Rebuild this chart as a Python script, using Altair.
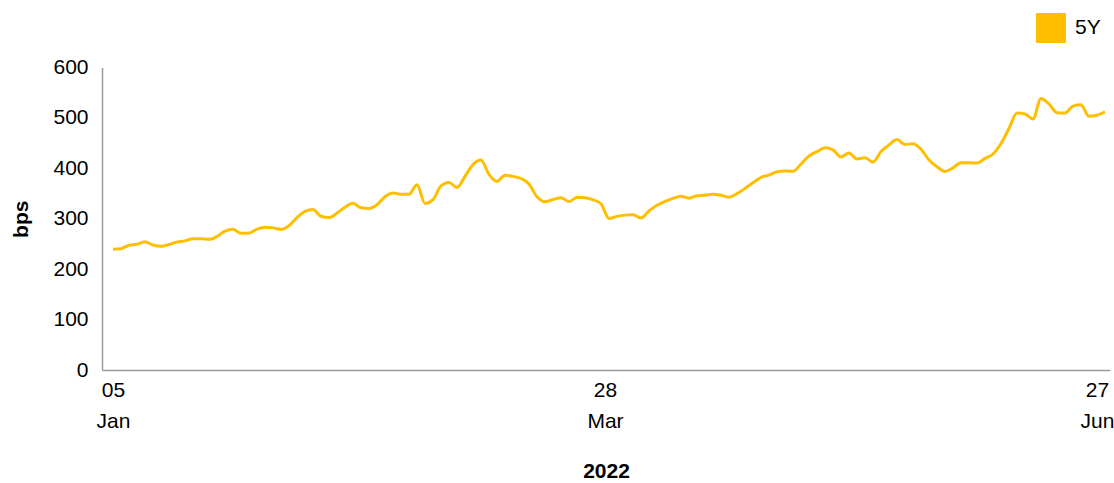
import altair as alt
import pandas as pd

values_5y = [
    239.4, 240.6, 247.5, 249.3, 254.5, 247.9, 245.4, 248.9, 253.9, 256.1,
    260.2, 260.2, 259.4, 264.8, 275.5, 279.0, 271.1, 271.5, 279.3, 283.2,
    281.9, 278.9, 286.2, 302.5, 314.6, 318.4, 304.9, 302.3, 311.2, 322.7,
    330.5, 321.7, 320.5, 327.9, 343.7, 350.9, 348.7, 348.5, 367.3, 330.3,
    337.8, 365.0, 371.9, 362.0, 384.0, 407.4, 416.5, 388.0, 373.9, 386.4,
    384.0, 379.8, 368.9, 343.5, 333.6, 338.2, 341.8, 334.0, 342.8, 341.6,
    337.6, 329.7, 300.5, 304.7, 307.2, 308.0, 301.5, 315.4, 326.7, 334.4,
    340.4, 344.7, 340.8, 345.5, 346.7, 348.5, 346.5, 342.8, 349.9, 360.2,
    371.3, 382.0, 386.4, 393.1, 394.7, 394.1, 408.6, 424.5, 433.2, 440.7,
    436.6, 422.5, 430.6, 418.7, 421.1, 412.4, 433.4, 446.3, 457.0, 447.1,
    448.9, 438.0, 416.5, 403.1, 393.7, 400.9, 411.0, 411.2, 410.4, 419.7,
    428.4, 449.3, 479.0, 509.8, 507.8, 497.9, 538.5, 527.6, 510.2, 509.6,
    523.4, 526.0, 503.2, 505.4, 512.3,
]
series_name = "5Y"
tick_obs = [0, 61.5, 123]
tick_day = ["05", "28", "27"]
tick_month = ["Jan", "Mar", "Jun"]
y_ticks = [0, 100, 200, 300, 400, 500, 600]

df = pd.DataFrame({
    "obs": list(range(len(values_5y))),
    "value": values_5y,
    "series": [series_name] * len(values_5y),
})

label_expr = " : ".join(
    f"datum.value == {v} ? ['{d}', '{m}']" for v, d, m in zip(tick_obs, tick_day, tick_month)
) + " : ''"

FONT = "Liberation Sans"

chart = alt.Chart(df).mark_line(
    interpolate="monotone", strokeWidth=3
).encode(
    x=alt.X(
        "obs:Q",
        scale=alt.Scale(domain=[-1.375, 124.625], nice=False, zero=False),
        axis=alt.Axis(
            values=tick_obs,
            labelExpr=label_expr,
            title="2022",
            grid=False,
            ticks=False,
            labelPadding=9,
            labelLineHeight=31,
            labelFontSize=21,
            labelFont=FONT,
            labelColor="#000000",
            labelAngle=0,
            labelOverlap=False,
            labelFlush=False,
            labelBound=False,
            titleFont=FONT,
            titleFontSize=21,
            titleFontWeight="bold",
            titleColor="#000000",
            titlePadding=29,
            domainColor="#9a9a9a",
            domainWidth=1.5,
        ),
    ),
    y=alt.Y(
        "value:Q",
        scale=alt.Scale(domain=[0, 600], nice=False),
        axis=alt.Axis(
            values=y_ticks,
            title="bps",
            grid=False,
            ticks=False,
            labelPadding=14,
            labelFontSize=21,
            labelFont=FONT,
            labelColor="#000000",
            titleFont=FONT,
            titleFontSize=21,
            titleFontWeight="bold",
            titleColor="#000000",
            titlePadding=21,
            domainColor="#9a9a9a",
            domainWidth=1.5,
        ),
    ),
    color=alt.Color(
        "series:N",
        scale=alt.Scale(range=["#FFBF00"]),
        legend=alt.Legend(
            title=None,
            orient="none",
            legendX=934,
            legendY=-54.5,
            padding=0,
            symbolType="square",
            symbolSize=900,
            symbolFillColor="#FFBF00",
            symbolStrokeColor="#FFBF00",
            symbolStrokeWidth=0,
            symbolOpacity=1,
            labelFont=FONT,
            labelFontSize=21,
            labelColor="#000000",
            labelOffset=9,
        ),
    ),
).properties(
    width=1008,
    height=302.5,
    autosize=alt.AutoSizeParams(type="none"),
    padding={"left": 102, "top": 67.5, "right": 4, "bottom": 113},
).configure_view(stroke=None)

chart.save("out.html", embed_options={"renderer": "svg", "actions": False})
